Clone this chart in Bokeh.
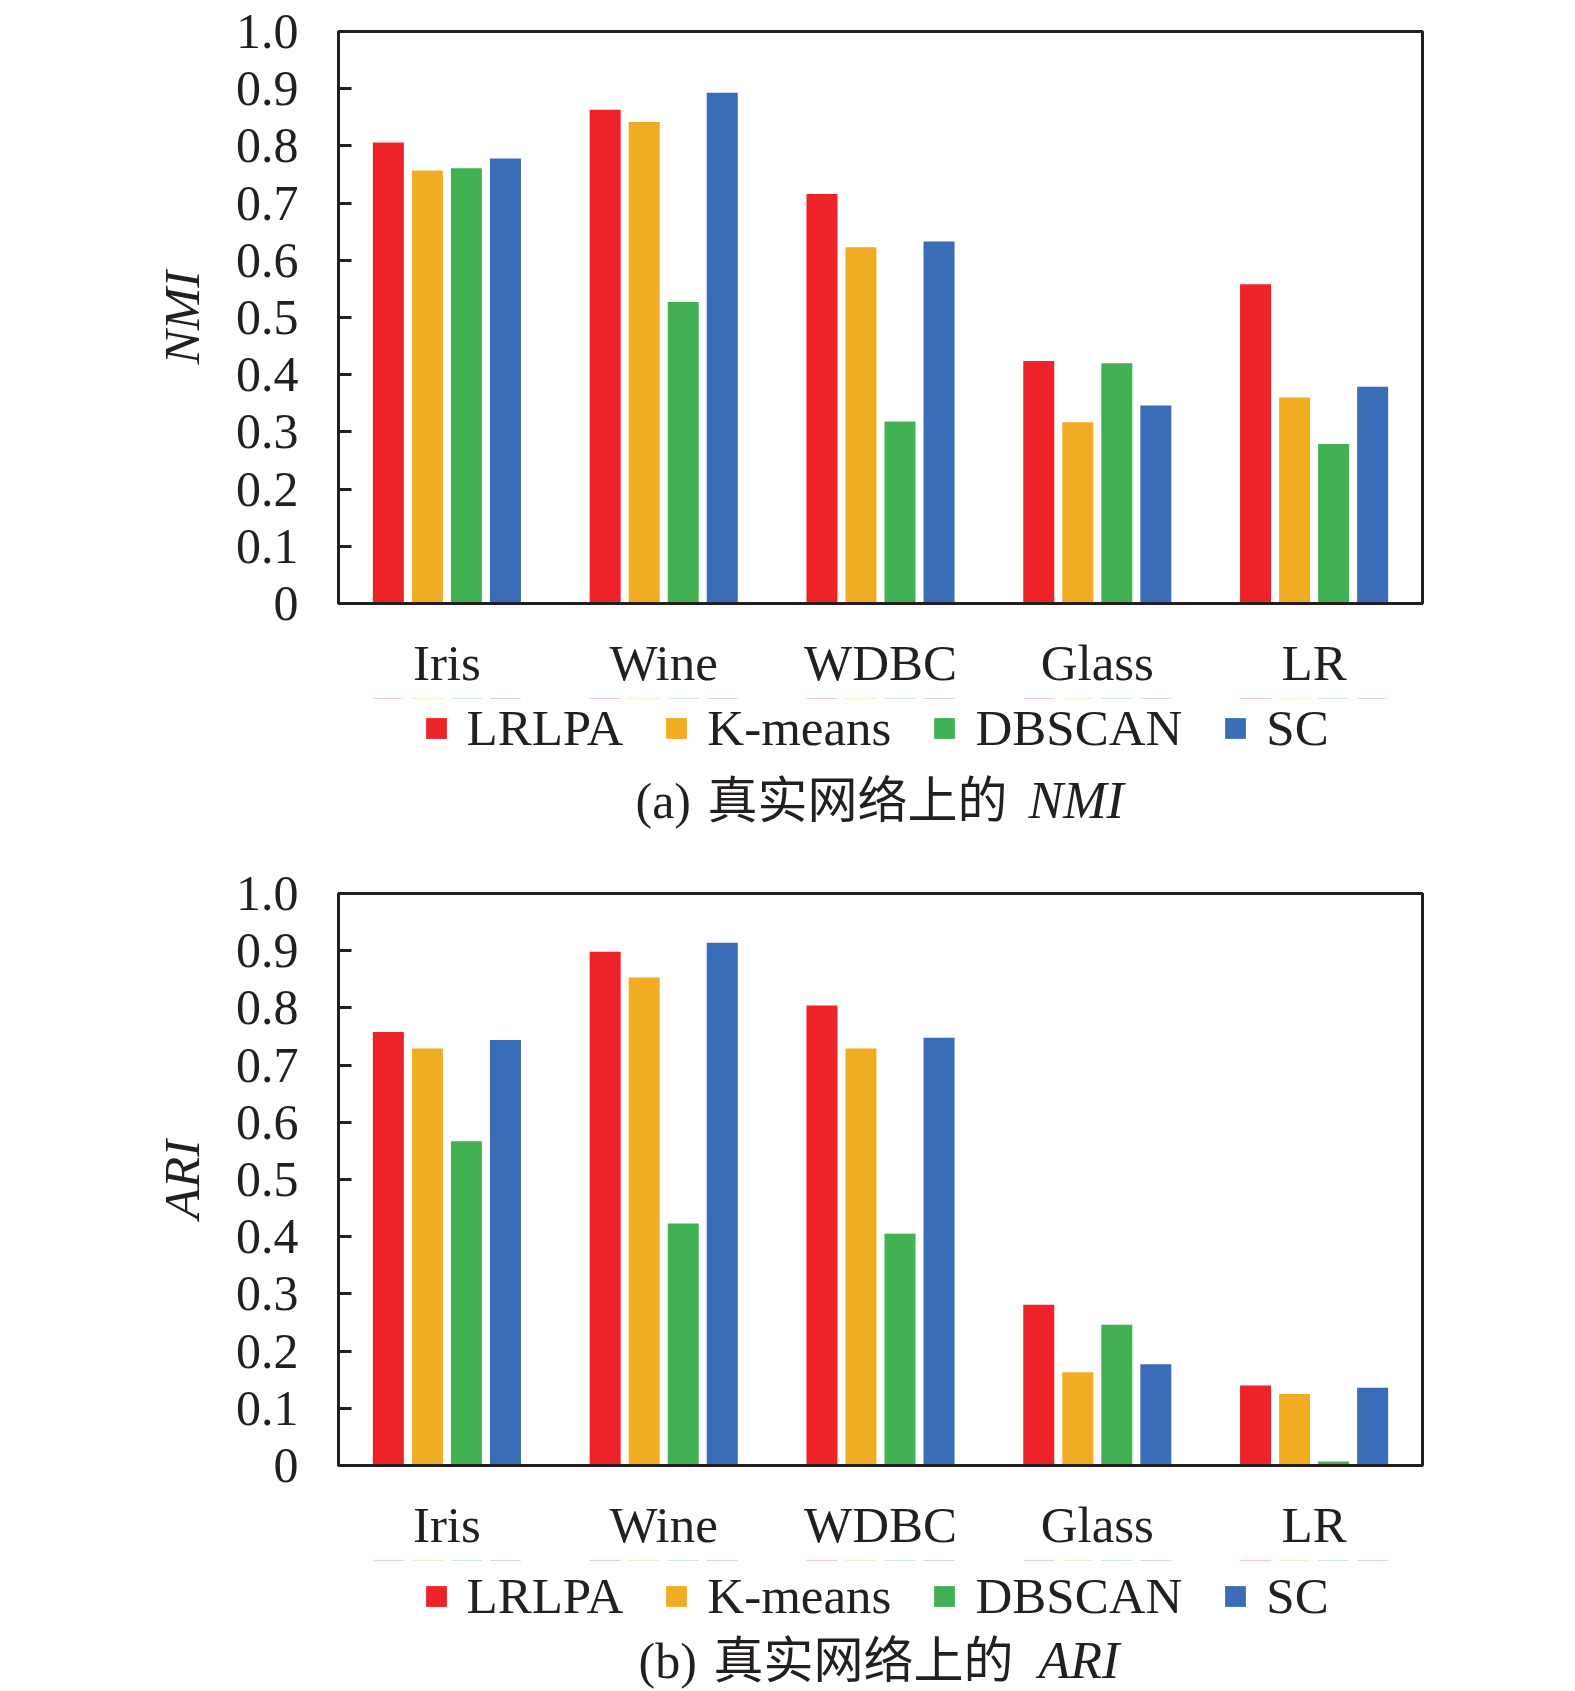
from bokeh.plotting import figure
from bokeh.models import (FactorRange, Range1d, FixedTicker, CustomJSTickFormatter,
                          Legend, LegendItem, ColumnDataSource)
from bokeh.transform import dodge
from bokeh.layouts import column
from bokeh.core.properties import value
from bokeh.embed import file_html
from bokeh.resources import INLINE

# ---------------- data ----------------
datasets = ["Iris", "Wine", "WDBC", "Glass", "LR"]
methods = ["LRLPA", "K-means", "DBSCAN", "SC"]
colors = ["#EE2229", "#F0AD24", "#41B153", "#3B6CB8"]

nmi_lrlpa = [0.806, 0.863, 0.716, 0.424, 0.558]
nmi_kmeans = [0.757, 0.842, 0.623, 0.317, 0.360]
nmi_dbscan = [0.761, 0.527, 0.318, 0.420, 0.279]
nmi_sc = [0.778, 0.893, 0.633, 0.346, 0.379]

ari_lrlpa = [0.758, 0.898, 0.804, 0.281, 0.140]
ari_kmeans = [0.729, 0.853, 0.729, 0.163, 0.125]
ari_dbscan = [0.567, 0.423, 0.405, 0.246, 0.007]
ari_sc = [0.744, 0.914, 0.748, 0.177, 0.136]

y_ticks = [0.0, 0.1, 0.2, 0.3, 0.4, 0.5, 0.6, 0.7, 0.8, 0.9, 1.0]

caption_tags = {"NMI": "(a)", "ARI": "(b)"}
caption_text = "真实网络上的"

SERIF = "Liberation Serif"
CJK = "Liberation Serif, Noto Sans CJK SC"
INK = "#231F20"

FRAME_W = 1084
FRAME_H = 572
LEFT = 338
RIGHT = 78
TOP = 31
BOTTOM = 95
FIG_W = LEFT + FRAME_W + RIGHT
OFFSETS = [-0.27, -0.09, 0.09, 0.27]
BAR_W = 0.143
FAR = 1000  # caption y-range sits far from the bars, which only feed the legend


def add_bars(p, src):
    rends = []
    for m, c, off in zip(methods, colors, OFFSETS):
        rends.append(p.vbar(x=dodge("ds", off, range=p.x_range), top=m, width=BAR_W,
                            source=src, fill_color=c, line_color=None))
    return rends


def make_chart(src, metric):
    p = figure(x_range=FactorRange(*datasets), y_range=Range1d(0, 1),
               width=FIG_W, height=TOP + FRAME_H + BOTTOM, output_backend="svg",
               toolbar_location=None,
               min_border_left=LEFT, min_border_right=RIGHT,
               min_border_top=TOP, min_border_bottom=BOTTOM)
    p.background_fill_color = "white"
    p.border_fill_color = "white"
    p.outline_line_color = INK
    p.outline_line_width = 3
    p.xgrid.grid_line_color = None
    p.ygrid.grid_line_color = None
    add_bars(p, src)

    ya = p.yaxis[0]
    ya.ticker = FixedTicker(ticks=y_ticks)
    ya.formatter = CustomJSTickFormatter(code="return tick == 0 ? '0' : tick.toFixed(1);")
    ya.axis_line_color = INK
    ya.axis_line_width = 3
    ya.major_tick_in = 13
    ya.major_tick_out = 0
    ya.major_tick_line_width = 3
    ya.major_tick_line_color = INK
    ya.minor_tick_line_color = None
    ya.major_label_text_font = SERIF
    ya.major_label_text_font_size = "50px"
    ya.major_label_text_color = INK
    ya.major_label_standoff = 40
    ya.axis_label = metric
    ya.axis_label_text_font = SERIF
    ya.axis_label_text_font_style = "italic"
    ya.axis_label_text_font_size = "51px"
    ya.axis_label_text_color = INK
    ya.axis_label_standoff = 23

    xa = p.xaxis[0]
    xa.axis_line_color = INK
    xa.axis_line_width = 3
    xa.major_tick_line_color = None
    xa.minor_tick_line_color = None
    xa.major_tick_in = 0
    xa.major_tick_out = 0
    xa.major_label_text_font = SERIF
    xa.major_label_text_font_size = "51px"
    xa.major_label_text_color = INK
    xa.major_label_standoff = 31
    return p


def make_caption(src, metric, cap_h, legend_center, base_y, tag_px, cjk_px, metric_px):
    c = figure(width=FIG_W, height=cap_h,
               x_range=FactorRange(*datasets), y_range=Range1d(-cap_h - FAR, -FAR),
               x_axis_type=None, y_axis_type=None, output_backend="svg",
               toolbar_location=None, min_border_left=LEFT, min_border_right=RIGHT,
               min_border_top=0, min_border_bottom=0, outline_line_color=None)
    c.background_fill_color = "white"
    c.border_fill_color = "white"
    c.grid.visible = False
    rends = add_bars(c, src)

    item_h = 57
    legend = Legend(items=[LegendItem(label=m, renderers=[r]) for m, r in zip(methods, rends)],
                    orientation="horizontal",
                    location=(84.5, cap_h - (legend_center + item_h / 2)),
                    glyph_width=26, glyph_height=26, label_standoff=18, spacing=40,
                    padding=0, margin=0, border_line_color=None, background_fill_alpha=0,
                    label_text_font=SERIF, label_text_font_size="51px",
                    label_text_color=INK, label_height=item_h)
    c.add_layout(legend)

    n = len(datasets)
    y_txt = -FAR - base_y

    def sx(px):
        return (px - LEFT) / FRAME_W * n

    c.text(x=[sx(tag_px)], y=[y_txt], text=[caption_tags[metric]],
           text_font=value(SERIF), text_font_size="50px", text_color=INK,
           text_align="left", text_baseline="alphabetic")
    c.text(x=[sx(cjk_px)], y=[y_txt], text=[caption_text],
           text_font=value(CJK), text_font_size="50px", text_color=INK,
           text_align="left", text_baseline="alphabetic")
    c.text(x=[sx(metric_px)], y=[y_txt], text=[metric],
           text_font=value(SERIF), text_font_style="italic", text_font_size="52px",
           text_color=INK, text_align="left", text_baseline="alphabetic")
    return c


src1 = ColumnDataSource(dict(ds=datasets, LRLPA=nmi_lrlpa, **{"K-means": nmi_kmeans},
                             DBSCAN=nmi_dbscan, SC=nmi_sc))
src2 = ColumnDataSource(dict(ds=datasets, LRLPA=ari_lrlpa, **{"K-means": ari_kmeans},
                             DBSCAN=ari_dbscan, SC=ari_sc))

p1 = make_chart(src1, "NMI")
c1 = make_caption(src1, "NMI", 164, 30.5, 102, 635, 707, 1028)
p2 = make_chart(src2, "ARI")
c2 = make_caption(src2, "ARI", 131, 36.5, 100, 638, 713, 1038)

layout = column(p1, c1, p2, c2, spacing=0)
open("out.html", "w").write(file_html(layout, INLINE))
